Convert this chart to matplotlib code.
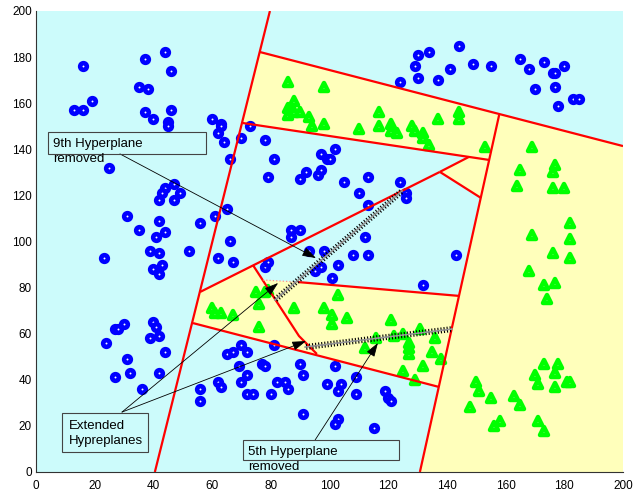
import matplotlib
matplotlib.use('Agg')
import matplotlib.pyplot as plt
from matplotlib import patheffects as pe
from matplotlib.markers import MarkerStyle
from matplotlib.patches import Polygon, Rectangle

plt.rcParams['font.family'] = ['Liberation Sans', 'DejaVu Sans']

# class 1 samples
blue_x = [16, 37, 44, 46, 35, 38, 19, 13, 16, 37, 40, 46, 45, 45, 60, 63, 63, 62, 64, 66, 70, 73, 78, 81, 79, 25,
          44, 47, 49, 43, 42, 47, 31, 35, 42, 44, 41, 56, 61, 65, 66, 52, 39, 42, 43, 40, 42, 23, 62, 67, 78, 79,
          97, 99, 100, 102, 92, 90, 96, 97, 105, 113, 110, 113, 124, 126, 126, 87, 90, 87, 93, 98, 103, 108, 113,
          97, 95, 101, 112, 143, 132,
          144, 134, 130, 129, 130, 124, 137, 141, 149, 155, 165, 168, 173, 176, 177, 180, 177, 170, 183, 185, 178,
          24, 27, 28, 30, 40, 41, 39, 42, 44, 31, 27, 32, 36, 42, 56, 56, 62, 63, 65, 67, 70, 72, 69, 81, 77, 78,
          70, 72, 72, 74, 80, 82, 85, 86, 90, 91, 91, 102, 109, 99, 104, 103, 109, 119, 120, 121, 103, 102, 115]
blue_y = [176, 179, 182, 174, 167, 166, 161, 157, 157, 156, 153, 157, 152, 150, 153, 151, 150, 147, 143, 136, 145, 150,
          144, 136, 128, 132,
          123, 125, 121, 121, 118, 118, 111, 105, 109, 104, 102, 108, 111, 114, 100, 96, 96, 95, 90, 88, 86, 93, 93,
          91, 89, 91,
          138, 136, 136, 140, 130, 127, 129, 131, 126, 128, 121, 116, 126, 121, 119, 105, 105, 102, 96, 96, 90, 94,
          94, 89, 87, 84, 102, 94, 81,
          185, 182, 181, 176, 171, 169, 170, 175, 177, 176, 179, 175, 178, 173, 173, 176, 167, 166, 162, 162, 159,
          56, 62, 62, 64, 65, 63, 58, 59, 52, 49, 41, 43, 36, 43, 36, 31, 39, 37, 51, 52, 55, 52, 46, 55, 47, 46,
          39, 42, 34, 34, 34, 39, 39, 36, 47, 42, 25, 46, 41, 38, 38, 35, 34, 35, 32, 31, 23, 21, 19]

# class 2 samples
green_x = [86, 88, 86, 86, 88, 90, 93, 94, 98, 98, 110, 117, 117, 121, 121, 123, 128, 129, 132, 132, 134, 137, 144,
           144, 153,
           169, 165, 164, 177, 176, 176, 180, 182, 169, 182, 176, 182, 168, 173, 177, 174, 173, 178, 170, 171, 177,
           177, 181, 182, 150, 151, 148, 155, 163, 165, 156, 158, 171, 173,
           103, 98, 101, 101, 106, 121, 131, 136, 116, 122, 125, 112, 127, 127, 127, 135, 138, 132, 125, 129, 88,
           75, 78, 79, 76, 76, 60, 61, 63, 67]
green_y = [169, 161, 158, 155, 156, 156, 154, 150, 167, 151, 149, 156, 150, 151, 148, 147, 150, 148, 147, 145, 142,
           153, 156, 153, 141,
           141, 131, 124, 133, 130, 123, 123, 108, 103, 101, 95, 93, 87, 81, 82, 75, 47, 47, 42, 38, 43, 37, 39, 39,
           39, 35, 28, 32, 33, 29, 20, 22, 22, 18,
           77, 71, 68, 64, 67, 66, 62, 58, 58, 59, 60, 54, 56, 54, 51, 52, 49, 46, 44, 40, 71,
           78, 78, 79, 73, 63, 71, 69, 69, 68]

# separating hyperplanes, each one a polyline
hyperplanes = [
    [(40.5, 0), (79.7, 200)],
    [(130.8, 0), (157.8, 154.9)],
    [(76.3, 182.2), (200, 141.4)],
    [(70.5, 151.4), (154.3, 135.4)],
    [(55.9, 78.1), (137.6, 130.2)],
    [(137.6, 130.2), (147.5, 136.7)],
    [(137.6, 130.2), (151.6, 118.9)],
    [(73.9, 89.8), (89.6, 59.0), (95.7, 51.2)],
    [(89.3, 82.4), (144.1, 76.4)],
    [(53.5, 64.6), (137.3, 36.9)],
]
removed_part = [(77.3, 83.3), (89.3, 82.4)]
extended = [
    [(81.4, 74.6), (124.7, 121.9)],
    [(91.7, 54.2), (141.7, 62.0)],
]

# cells assigned to class 2
class2_cells = [
    [(76.3, 182.2), (157.8, 154.9), (154.3, 135.4), (70.5, 151.4)],
    [(147.5, 136.7), (154.3, 135.4), (151.6, 118.9), (137.6, 130.2)],
    [(130.8, 0), (157.8, 154.9), (200, 141.4), (200, 0)],
    [(55.9, 78.1), (73.9, 89.8), (77.3, 83.3), (89.3, 82.4), (144.1, 76.4), (137.3, 36.9), (53.5, 64.6)],
]

fig = plt.figure(figsize=(6.35, 4.95), dpi=100)
ax = fig.add_axes([36 / 635, 23 / 495, 587 / 635, 461 / 495])
ax.set_facecolor('#ccfbfb')

for cell in class2_cells:
    ax.add_patch(Polygon(cell, closed=True, facecolor='#ffffbb', edgecolor='none', zorder=1))

ax.plot(blue_x, blue_y, linestyle='none', marker='o', ms=4.8, mew=3.3,
        mfc='white', mec='#0000ff', zorder=2)
tri = MarkerStyle('^', joinstyle='round')
ax.plot(green_x, green_y, linestyle='none', marker=tri, ms=6.3, mew=3.2,
        mfc='white', mec='#00ff00', zorder=2)

for seg in hyperplanes:
    xs, ys = zip(*seg)
    ax.plot(xs, ys, color='#ff0000', lw=1.6, zorder=3, solid_capstyle='butt')

xs, ys = zip(*removed_part)
ax.plot(xs, ys, color='#ff9090', lw=0.9, ls=':', zorder=3)

ticks = [pe.withTickedStroke(angle=90, spacing=2.2, length=0.8, foreground='k', linewidth=0.8),
         pe.withTickedStroke(angle=-90, spacing=2.2, length=0.8, foreground='k', linewidth=0.8)]
for seg in extended:
    xs, ys = zip(*seg)
    ax.plot(xs, ys, color='0.6', lw=1.0, zorder=4, path_effects=ticks)

# callouts
arrow = dict(arrowstyle='-|>,head_length=0.85,head_width=0.28', color='k', lw=0.6,
             shrinkA=0, shrinkB=0, mutation_scale=10)
for start, tip in [((28.6, 138.0), (95.4, 92.8)),
                   ((29.3, 26.0), (82.5, 82.0)),
                   ((29.3, 26.0), (92.0, 56.8)),
                   ((95.1, 13.9), (116.5, 56.0))]:
    ax.annotate('', xy=tip, xytext=start, arrowprops=arrow, zorder=5)

for x0, y0, x1, y1 in [(4.0, 137.8, 57.8, 147.6), (9.0, 8.5, 38.0, 25.7), (70.4, 5.2, 123.7, 13.9)]:
    ax.add_patch(Rectangle((x0, y0), x1 - x0, y1 - y0, facecolor='none',
                           edgecolor='#444444', lw=0.8, zorder=5, clip_on=False))

for x, y, s in [(5.9, 141.0, '9th Hyperplane'), (5.9, 134.5, 'removed'),
                (11.2, 18.7, 'Extended'), (11.2, 12.1, 'Hypreplanes'),
                (72.3, 7.4, '5th Hyperplane'), (72.3, 0.9, 'removed')]:
    ax.text(x, y, s, fontsize=9.5, va='baseline', ha='left', zorder=6, clip_on=False)

ax.set_xlim(0, 200)
ax.set_ylim(0, 200)
ax.set_xticks(range(0, 201, 20))
ax.set_yticks(range(0, 201, 20))
ax.tick_params(length=0, labelsize=8.5)
ax.tick_params(axis='x', pad=5.5)
ax.tick_params(axis='y', pad=3)
for side in ['top', 'right']:
    ax.spines[side].set_visible(False)
for side in ['left', 'bottom']:
    ax.spines[side].set_color('#333333')
    ax.spines[side].set_linewidth(0.8)

fig.savefig('out.png', dpi=100)
